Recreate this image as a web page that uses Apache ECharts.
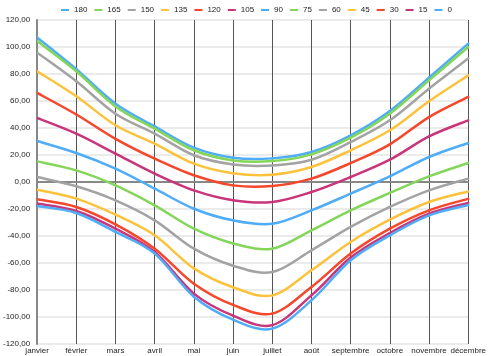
<!DOCTYPE html>
<html><head><meta charset="utf-8">
<script src="https://cdn.jsdelivr.net/npm/echarts@6/dist/echarts.min.js"></script>
<style>html,body{margin:0;padding:0;background:#fff}#c{width:489px;height:356px}</style>
</head><body><div id="c"></div>
<script>
const months = ['janvier','février','mars','avril','mai','juin','juillet','août','septembre','octobre','novembre','décembre'];
const seriesNames = ['180','165','150','135','120','105','90','75','60','45','30','15','0'];
const s180 = [107, 83.5, 58, 41.2, 25.4, 18, 17.5, 22.2, 34.6, 52.6, 77.3, 102.5];
const s165 = [104.4, 82, 56, 39.5, 23.5, 16, 15.5, 20.5, 32.8, 50.6, 75.3, 100];
const s150 = [95.8, 74.6, 50.6, 35.8, 19.8, 13, 12.3, 16.5, 29.6, 45.7, 69.1, 91.4];
const s135 = [82, 63.5, 42, 28.4, 13.6, 6.5, 5.4, 11.1, 23.5, 38.3, 59.8, 79];
const s120 = [66, 50, 32, 17.3, 5, -2.5, -3, 2.5, 14, 27.9, 48.1, 63];
const s105 = [47.4, 35.8, 21, 6.2, -6.2, -13.5, -14.8, -7.4, 3.7, 16.5, 33.8, 45.7];
const s90 = [30.4, 21.5, 9.9, -4.9, -19.8, -28.4, -30.9, -21, -8.6, 4.2, 18.5, 28.9];
const s75 = [15.3, 8.6, -2.5, -17.3, -34.6, -45.5, -49.4, -35.8, -21, -8.1, 4.2, 14.1];
const s60 = [3.7, -3.2, -13.6, -28.4, -49.4, -62, -66.7, -50.6, -33.3, -18.5, -6.2, 2.5];
const s45 = [-5.7, -12.3, -24.2, -39.5, -64, -78, -84, -65.4, -44.4, -27.9, -14.8, -7];
const s30 = [-12.8, -18.5, -31.4, -49.4, -75.3, -91, -97.5, -77.8, -53, -34.6, -21, -12.5];
const s15 = [-16, -21.5, -34.6, -51.9, -82.7, -99, -106, -84, -56, -37.8, -23.5, -15.5];
const s0 = [-17.8, -23, -37, -53, -85, -102, -108.6, -87.7, -58, -39.5, -24.7, -17];
const seriesData = [s180, s165, s150, s135, s120, s105, s90, s75, s60, s45, s30, s15, s0];
const palette = ['#4fadf7','#84d65a','#a3a3a3','#fcc23c','#f4472b','#c9357a'];

// Catmull-Rom segment renderer: each data item draws the curve piece to the next point,
// with all positions obtained from the chart's own axes via api.coord.
function makeRenderer(arr, color) {
  return function (params, api) {
    const j = params.dataIndex;
    if (j >= arr.length - 1) return null;
    const pt = k => {
      const kk = Math.max(0, Math.min(arr.length - 1, k));
      return api.coord([kk, arr[kk]]);
    };
    const p0 = pt(j - 1), p1 = pt(j), p2 = pt(j + 1), p3 = pt(j + 2);
    return {
      type: 'bezierCurve',
      shape: {
        x1: p1[0], y1: p1[1], x2: p2[0], y2: p2[1],
        cpx1: p1[0] + (p2[0] - p0[0]) / 6, cpy1: p1[1] + (p2[1] - p0[1]) / 6,
        cpx2: p2[0] - (p3[0] - p1[0]) / 6, cpy2: p2[1] - (p3[1] - p1[1]) / 6
      },
      style: {stroke: color, lineWidth: 2.5, fill: null, lineCap: 'round'},
      silent: true
    };
  };
}

const chart = echarts.init(document.getElementById('c'));
chart.setOption({
  animation: false,
  legend: {
    top: 1, left: 56,
    icon: 'rect', itemWidth: 8, itemHeight: 2, itemGap: 7,
    textStyle: {fontSize: 8, color: '#222', fontFamily: 'Liberation Sans'},
    data: seriesNames
  },
  grid: {left: 35, right: 17, top: 20, bottom: 12, containLabel: false},
  xAxis: {
    type: 'category', data: months, boundaryGap: false,
    axisLine: {lineStyle: {color: '#888', width: 2}},
    axisTick: {show: false},
    axisLabel: {fontSize: 8, color: '#222', margin: 3, fontFamily: 'Liberation Sans', interval: 0},
    splitLine: {show: true, lineStyle: {color: '#555', width: 1}}
  },
  yAxis: {
    type: 'value', min: -120, max: 120, interval: 20,
    axisLine: {show: true, lineStyle: {color: '#888', width: 2}},
    axisTick: {show: false},
    axisLabel: {fontSize: 8, color: '#222', margin: 7, fontFamily: 'Liberation Sans',
      formatter: v => v.toFixed(2).replace('.', ',')},
    splitLine: {lineStyle: {color: '#e4e4e4', width: 1.5}}
  },
  series: seriesNames.map((n, i) => ({
    name: n, type: 'custom',
    data: seriesData[i].map((v, j) => [j, v]),
    encode: {x: 0, y: 1},
    renderItem: makeRenderer(seriesData[i], palette[i % 6]),
    itemStyle: {color: palette[i % 6]},
    clip: true
  }))
});
</script></body></html>
